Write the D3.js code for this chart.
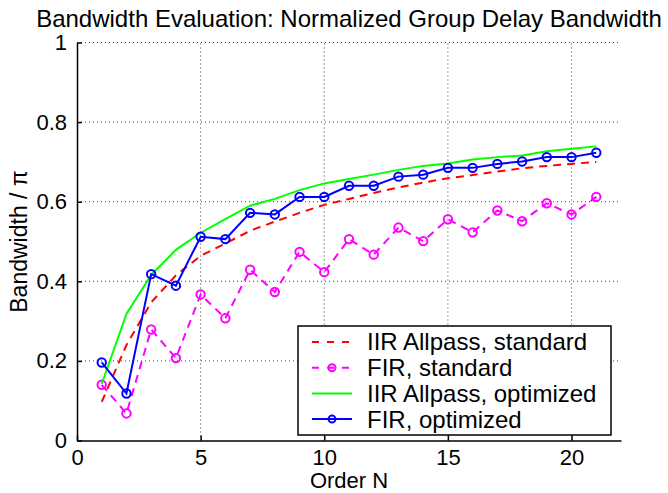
<!DOCTYPE html>
<html>
<head>
<meta charset="utf-8">
<script src="https://cdn.jsdelivr.net/npm/d3@7"></script>
<style>
  html, body { margin: 0; padding: 0; background: #fff; }
  svg { display: block; }
  text { font-family: "Liberation Sans", Arial, Helvetica, sans-serif; fill: #000; }
</style>
</head>
<body>
<svg id="chart" width="668" height="493"></svg>
<script>
// Filter order N
const orders = [1, 2, 3, 4, 5, 6, 7, 8, 9, 10, 11, 12, 13, 14, 15, 16, 17, 18, 19, 20, 21];

// Normalized group delay bandwidth (fraction of pi) per design
const iirStandard  = [0.097, 0.240, 0.347, 0.415, 0.464, 0.495, 0.527, 0.550, 0.572, 0.592, 0.607, 0.622, 0.636, 0.648, 0.659, 0.667, 0.676, 0.684, 0.690, 0.695, 0.700];
const firStandard  = [0.140, 0.068, 0.279, 0.207, 0.367, 0.307, 0.429, 0.373, 0.474, 0.423, 0.506, 0.467, 0.535, 0.501, 0.556, 0.523, 0.578, 0.551, 0.596, 0.568, 0.612];
const iirOptimized = [0.142, 0.318, 0.416, 0.479, 0.522, 0.556, 0.590, 0.607, 0.629, 0.646, 0.657, 0.668, 0.680, 0.690, 0.696, 0.706, 0.712, 0.716, 0.727, 0.733, 0.739];
const firOptimized = [0.196, 0.118, 0.418, 0.389, 0.512, 0.506, 0.572, 0.568, 0.612, 0.612, 0.640, 0.640, 0.663, 0.668, 0.685, 0.685, 0.695, 0.701, 0.712, 0.712, 0.723];

// Axis ticks and labels
const xTicks = [0, 5, 10, 15, 20];
const yTicks = [0, 0.2, 0.4, 0.6, 0.8, 1];
const yTickLabels = ["0", "0.2", "0.4", "0.6", "0.8", "1"];

const titleText = "Bandwidth Evaluation: Normalized Group Delay Bandwidth";
const xLabelText = "Order N";
const yLabelText = "Bandwidth / \u03c0";

const seriesNames = ["IIR Allpass, standard", "FIR, standard", "IIR Allpass, optimized", "FIR, optimized"];

const svg = d3.select("#chart");

const plot = { left: 77, right: 621, top: 42.5, bottom: 440.5 };
const x = d3.scaleLinear().domain([0, 22]).range([plot.left, plot.right]);
const y = d3.scaleLinear().domain([0, 1]).range([plot.bottom, plot.top]);

const FONT = 22;

// Dotted grid
const grid = svg.append("g").attr("stroke", "#444").attr("stroke-width", 1)
  .attr("stroke-dasharray", "1,3");
xTicks.filter(d => d > 0).forEach(d => {
  grid.append("line").attr("x1", x(d)).attr("x2", x(d))
    .attr("y1", plot.bottom).attr("y2", plot.top);
});
yTicks.filter(d => d > 0).forEach(d => {
  grid.append("line").attr("x1", plot.left).attr("x2", plot.right)
    .attr("y1", y(d)).attr("y2", y(d));
});

// Axes with inward ticks
const xAxis = d3.axisBottom(x).tickValues(xTicks).tickSizeInner(-5).tickSizeOuter(0)
  .tickPadding(9).tickFormat(d3.format("d"));
const gx = svg.append("g").attr("transform", `translate(0,${plot.bottom})`).call(xAxis);
gx.select(".domain").attr("stroke", "#000").attr("stroke-width", 1.5);
gx.selectAll(".tick line").attr("stroke", "#000").attr("stroke-width", 1.5);
gx.selectAll(".tick text").attr("font-size", FONT).attr("font-family", null);

const yAxis = d3.axisLeft(y).tickValues(yTicks).tickSizeInner(-5).tickSizeOuter(0)
  .tickPadding(10).tickFormat((d, i) => yTickLabels[i]);
const gy = svg.append("g").attr("transform", `translate(${plot.left},0)`).call(yAxis);
gy.select(".domain").attr("stroke", "#000").attr("stroke-width", 1.5);
gy.selectAll(".tick line").attr("stroke", "#000").attr("stroke-width", 1.5);
gy.selectAll(".tick text").attr("font-size", FONT).attr("font-family", null);

// Series
const line = d3.line().x((d, i) => x(orders[i])).y(d => y(d));
const series = [
  { name: seriesNames[0], values: iirStandard,  color: "#ff0000", dash: "8,6", marker: false },
  { name: seriesNames[1], values: firStandard,  color: "#ff00ff", dash: "8,6", marker: true },
  { name: seriesNames[2], values: iirOptimized, color: "#00ff00", dash: null,  marker: false },
  { name: seriesNames[3], values: firOptimized, color: "#0000ff", dash: null,  marker: true }
];

series.forEach(s => {
  svg.append("path").datum(s.values)
    .attr("d", line)
    .attr("fill", "none")
    .attr("stroke", s.color)
    .attr("stroke-width", 2)
    .attr("stroke-dasharray", s.dash);
  if (s.marker) {
    svg.append("g").selectAll("circle").data(s.values).join("circle")
      .attr("cx", (d, i) => x(orders[i]))
      .attr("cy", d => y(d))
      .attr("r", 4.2)
      .attr("fill", "none")
      .attr("stroke", s.color)
      .attr("stroke-width", 2);
  }
});

// Title and axis labels
svg.append("text").attr("x", (plot.left + plot.right) / 2).attr("y", 27)
  .attr("text-anchor", "middle").attr("font-size", 24).text(titleText);
svg.append("text").attr("x", (plot.left + plot.right) / 2).attr("y", 488)
  .attr("text-anchor", "middle").attr("font-size", FONT).text(xLabelText);
svg.append("text")
  .attr("transform", `translate(27,${(plot.top + plot.bottom) / 2}) rotate(-90)`)
  .attr("text-anchor", "middle").attr("font-size", 23).text(yLabelText);

// Legend
const lg = { x: 298, y: 326, w: 313, h: 109 };
const legend = svg.append("g");
legend.append("rect").attr("x", lg.x).attr("y", lg.y).attr("width", lg.w).attr("height", lg.h)
  .attr("fill", "#fff").attr("stroke", "#000").attr("stroke-width", 1.5);
series.forEach((s, i) => {
  const cy = lg.y + 16 + i * 25.7;
  legend.append("line").attr("x1", lg.x + 14).attr("x2", lg.x + 54)
    .attr("y1", cy).attr("y2", cy)
    .attr("stroke", s.color).attr("stroke-width", 2)
    .attr("stroke-dasharray", s.dash ? "7,8" : null);
  if (s.marker) {
    legend.append("circle").attr("cx", lg.x + 34).attr("cy", cy).attr("r", 3.5)
      .attr("fill", "none").attr("stroke", s.color).attr("stroke-width", 2);
  }
  legend.append("text").attr("x", lg.x + 69).attr("y", cy).attr("dy", "0.35em")
    .attr("font-size", 24).text(s.name);
});
</script>
</body>
</html>
